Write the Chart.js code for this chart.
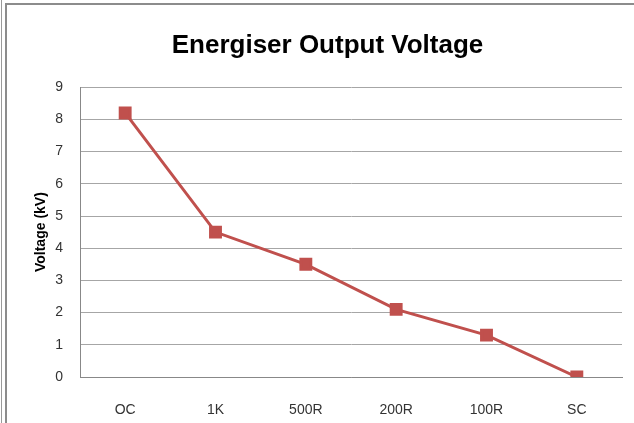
<!DOCTYPE html>
<html>
<head>
<meta charset="utf-8">
<script src="https://cdn.jsdelivr.net/npm/chart.js@4"></script>
<style>
  html, body { margin: 0; padding: 0; background: #fff; }
  #wrap { position: relative; width: 634px; height: 423px; overflow: hidden; }
  #edge { position: absolute; left: 1px; top: 0; width: 1px; height: 423px; background: #9a9a9a; }
  #frame { position: absolute; left: 5px; top: 3px; width: 700px; height: 500px;
           border-left: 2px solid #8c8c8c; border-top: 2px solid #8c8c8c; }
  canvas { position: absolute; left: 0; top: 0; }
</style>
</head>
<body>
<div id="wrap">
  <div id="edge"></div>
  <div id="frame"></div>
  <canvas id="chart" width="634" height="423"></canvas>
</div>
<script>
// loads and the voltage measured at each one
const loads = ['OC', '1K', '500R', '200R', '100R', 'SC'];
const voltage = [8.2, 4.5, 3.5, 2.1, 1.3, 0];
const yTicks = [0, 1, 2, 3, 4, 5, 6, 7, 8, 9];

const red = '#C0504D';
const tickFont = { family: 'Liberation Sans', size: 14 };

const ctx = document.getElementById('chart').getContext('2d');
new Chart(ctx, {
  type: 'line',
  data: {
    labels: loads,
    datasets: [{
      label: 'Voltage',
      data: voltage,
      borderColor: red,
      backgroundColor: red,
      borderWidth: 3,
      pointStyle: 'rect',
      pointRadius: 7,
      pointHoverRadius: 7,
      tension: 0
    }]
  },
  options: {
    responsive: false,
    animation: false,
    layout: { padding: { left: 33, right: 12, top: 0, bottom: 0 } },
    plugins: {
      legend: { display: false },
      tooltip: { enabled: false },
      title: {
        display: true,
        text: 'Energiser Output Voltage',
        color: '#000',
        font: { family: 'Liberation Sans', size: 26, weight: 'bold' },
        padding: { top: 30, bottom: 26 }
      }
    },
    scales: {
      x: {
        offset: true,
        grid: { display: false },
        border: { color: '#888' },
        ticks: { color: '#333', font: tickFont, padding: 17 },
        afterFit: s => { s.height = 46; }
      },
      y: {
        min: 0,
        max: 9,
        afterBuildTicks: s => { s.ticks = yTicks.map(v => ({ value: v })); },
        grid: { color: '#a6a6a6', drawTicks: false },
        border: { color: '#888' },
        ticks: { color: '#333', font: tickFont, padding: 17 },
        title: {
          display: true,
          text: 'Voltage (kV)',
          color: '#000',
          font: { family: 'Liberation Sans', size: 14, weight: 'bold' },
          padding: { top: 0, bottom: 0 }
        },
        afterFit: s => { s.width = 47; }
      }
    }
  }
});
</script>
</body>
</html>
